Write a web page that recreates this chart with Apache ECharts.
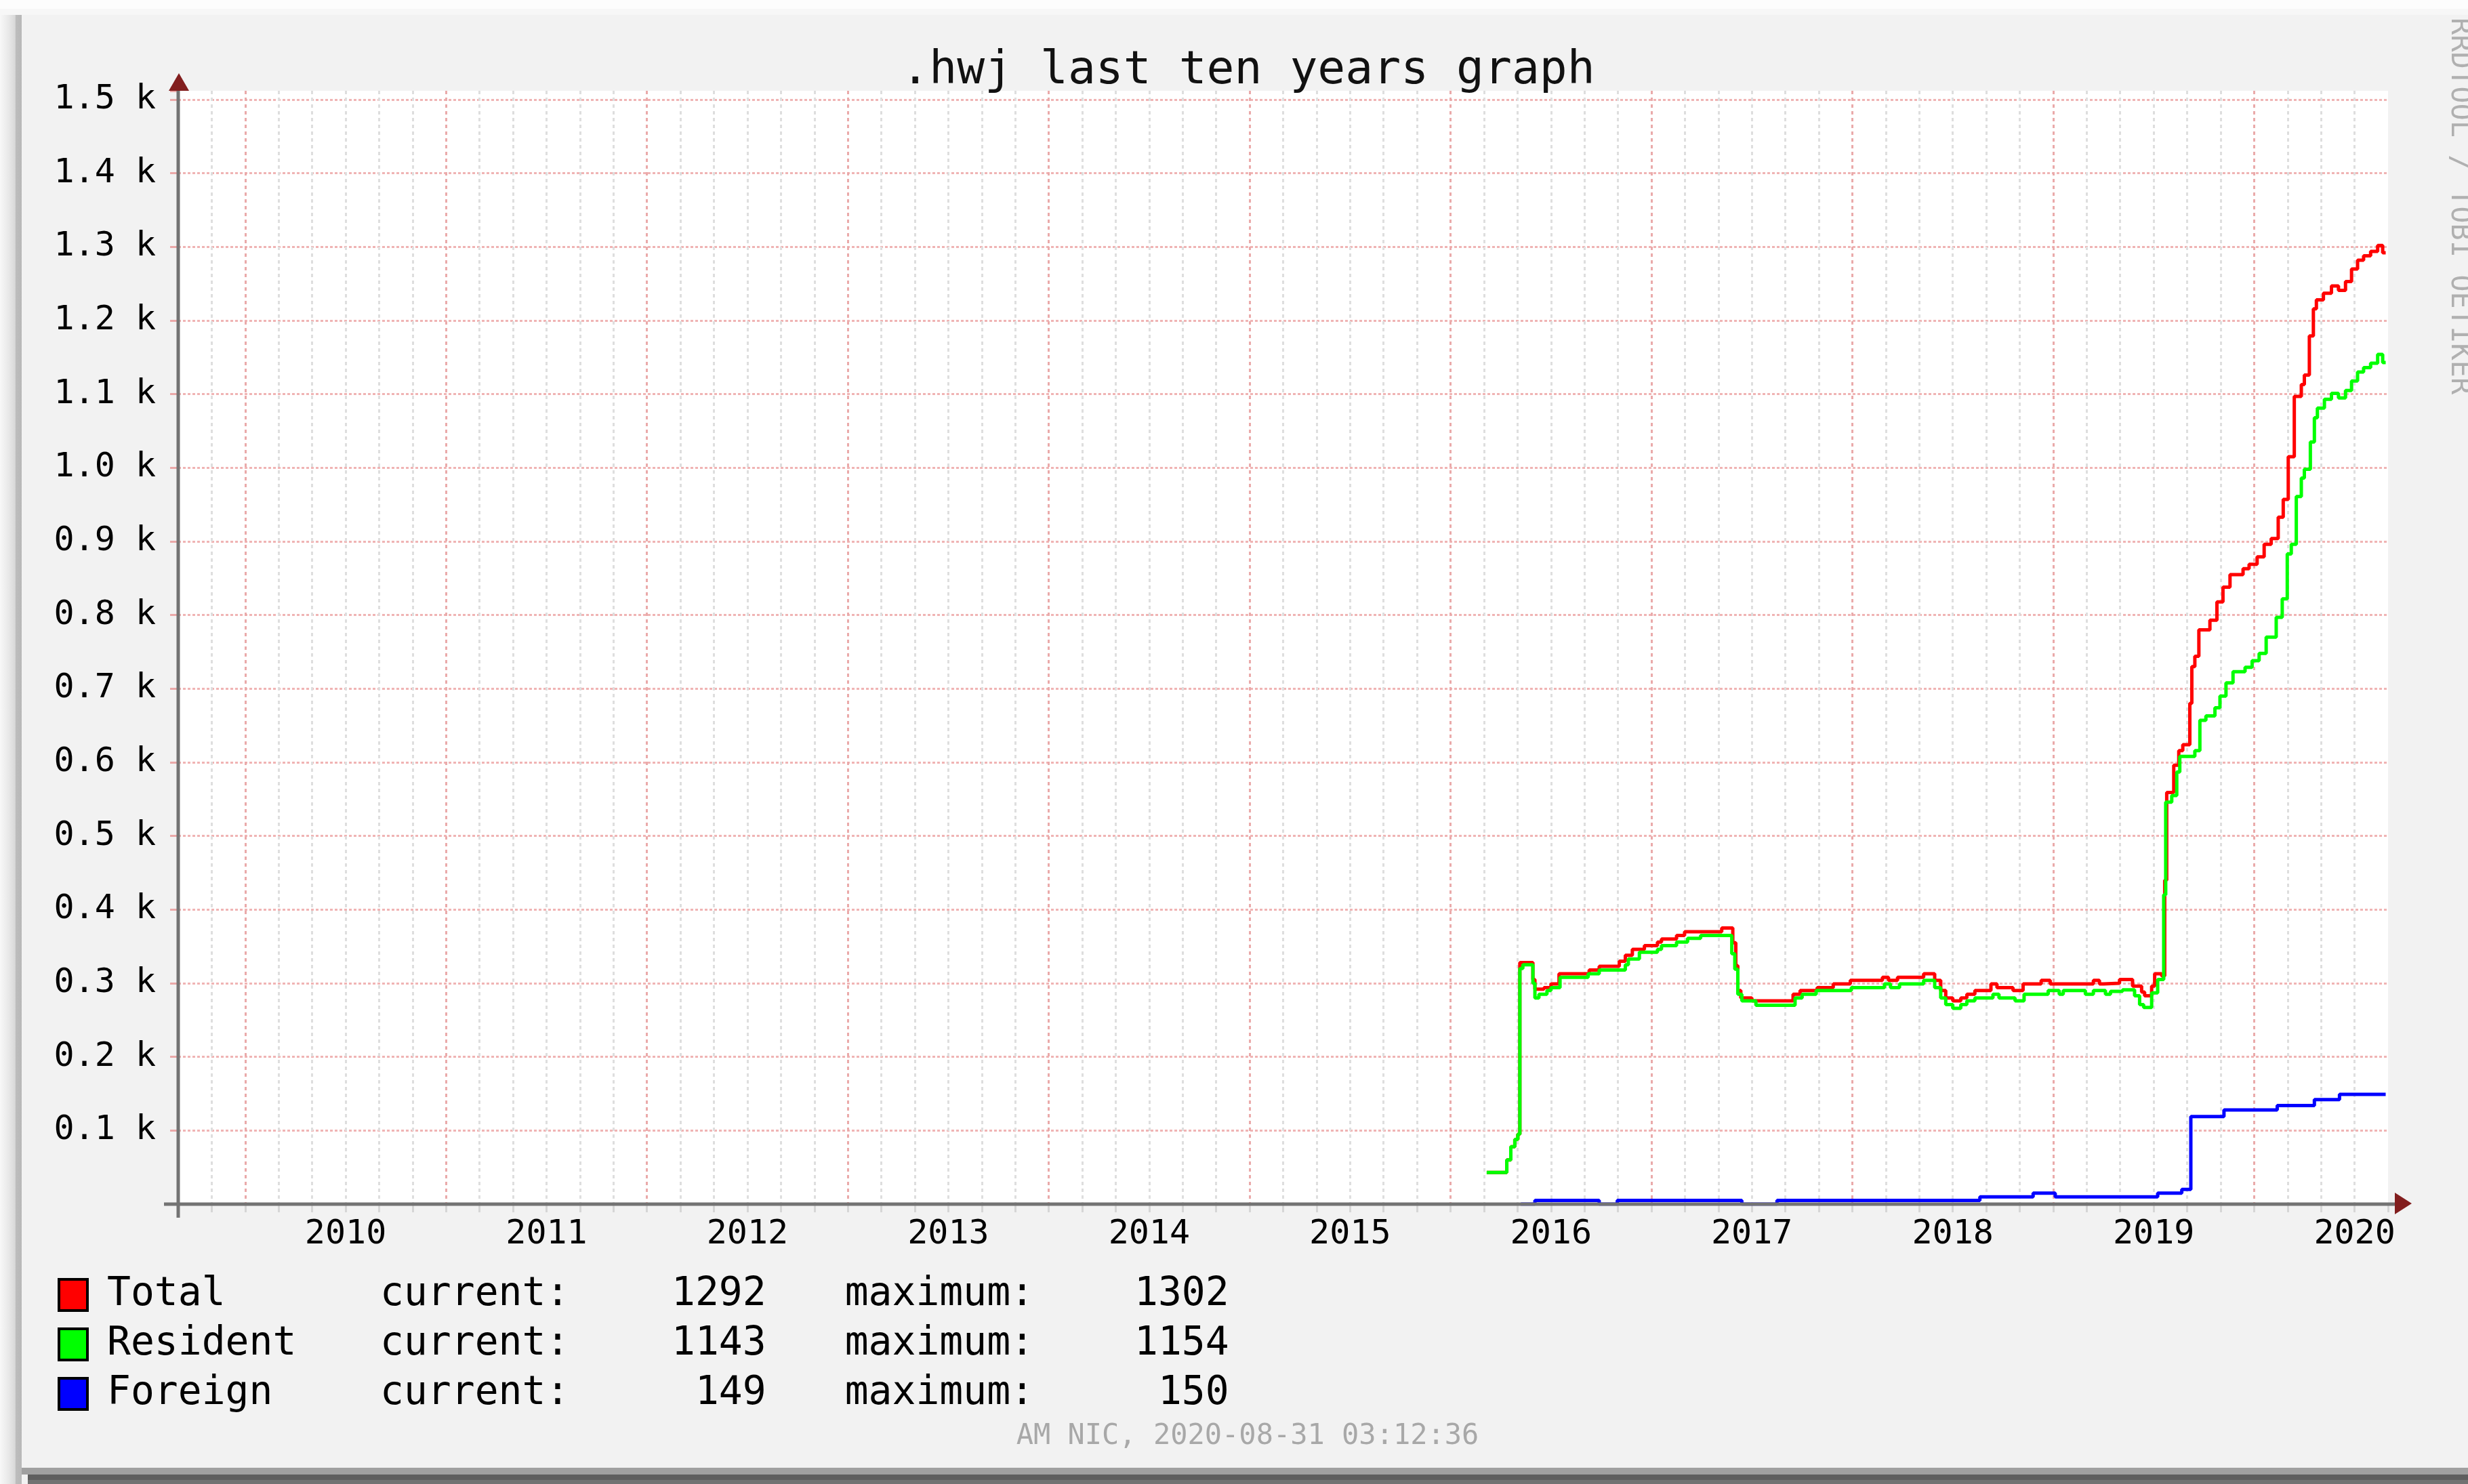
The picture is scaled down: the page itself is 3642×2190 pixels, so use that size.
<!DOCTYPE html>
<html>
<head>
<meta charset="utf-8">
<title>.hwj last ten years graph</title>
<script src="https://cdn.jsdelivr.net/npm/echarts@6.0.0/dist/echarts.min.js"></script>
<style>
  html, body { margin: 0; padding: 0; background: #f2f2f2; }
  #chart { width: 3642px; height: 2190px; }
</style>
</head>
<body>
<div id="chart"></div>
<script>
// [decimal year, domains] - each value holds until the next point (rrd steps)
const totalPoints = [
  [2016.18, 43], [2016.28, 60], [2016.30, 78], [2016.32, 88], [2016.335, 95], [2016.345, 328],
  [2016.41, 305], [2016.42, 292], [2016.465, 294], [2016.50, 299], [2016.54, 313], [2016.69, 318],
  [2016.74, 323], [2016.84, 330], [2016.87, 338], [2016.905, 346], [2016.965, 351], [2017.03, 356],
  [2017.05, 360], [2017.125, 365], [2017.165, 370], [2017.35, 375], [2017.405, 355], [2017.42, 324],
  [2017.43, 290], [2017.445, 280], [2017.50, 276], [2017.705, 285], [2017.74, 290], [2017.825, 294],
  [2017.905, 299], [2017.99, 304], [2018.15, 308], [2018.18, 304], [2018.225, 308], [2018.355, 313],
  [2018.41, 304], [2018.44, 290], [2018.465, 280], [2018.50, 276], [2018.54, 280], [2018.57, 285],
  [2018.61, 290], [2018.69, 299], [2018.72, 294], [2018.80, 290], [2018.85, 299], [2018.94, 304],
  [2018.985, 299], [2019.20, 304], [2019.23, 299], [2019.25, 300], [2019.33, 305], [2019.395, 296],
  [2019.44, 288], [2019.455, 283], [2019.49, 296], [2019.505, 313], [2019.54, 310], [2019.555, 440],
  [2019.565, 559], [2019.60, 596], [2019.625, 616], [2019.645, 624], [2019.68, 680], [2019.69, 730],
  [2019.705, 744], [2019.725, 780], [2019.78, 793], [2019.815, 818], [2019.845, 838], [2019.88, 855],
  [2019.945, 863], [2019.975, 869], [2020.015, 879], [2020.05, 896], [2020.085, 904], [2020.12, 933],
  [2020.145, 957], [2020.17, 1015], [2020.20, 1097], [2020.235, 1113], [2020.25, 1126], [2020.275, 1179],
  [2020.295, 1216], [2020.31, 1228], [2020.345, 1237], [2020.385, 1247], [2020.42, 1241], [2020.455, 1253],
  [2020.485, 1270], [2020.515, 1282], [2020.545, 1288], [2020.58, 1294], [2020.615, 1302], [2020.64, 1292],
  [2020.655, 1292]
];
const residentPoints = [
  [2016.18, 43], [2016.28, 60], [2016.30, 78], [2016.32, 88], [2016.335, 95], [2016.345, 320],
  [2016.36, 325], [2016.41, 300], [2016.42, 280], [2016.44, 285], [2016.48, 290], [2016.50, 294],
  [2016.545, 308], [2016.685, 313], [2016.74, 318], [2016.87, 325], [2016.885, 333], [2016.94, 342],
  [2017.03, 346], [2017.05, 351], [2017.125, 356], [2017.18, 361], [2017.245, 365], [2017.40, 340],
  [2017.415, 319], [2017.43, 285], [2017.45, 276], [2017.52, 270], [2017.715, 280], [2017.75, 285],
  [2017.82, 290], [2017.995, 294], [2018.16, 299], [2018.19, 294], [2018.235, 299], [2018.355, 304],
  [2018.41, 294], [2018.44, 280], [2018.465, 271], [2018.50, 266], [2018.54, 271], [2018.57, 276],
  [2018.61, 280], [2018.70, 285], [2018.73, 280], [2018.81, 276], [2018.855, 285], [2018.975, 290],
  [2019.03, 285], [2019.05, 290], [2019.16, 285], [2019.20, 290], [2019.26, 285], [2019.285, 289],
  [2019.345, 291], [2019.405, 283], [2019.43, 271], [2019.45, 267], [2019.49, 287], [2019.52, 305],
  [2019.55, 420], [2019.56, 546], [2019.59, 555], [2019.615, 587], [2019.63, 608], [2019.705, 616],
  [2019.73, 657], [2019.76, 663], [2019.805, 674], [2019.83, 690], [2019.86, 708], [2019.895, 723],
  [2019.955, 729], [2019.99, 738], [2020.025, 748], [2020.06, 770], [2020.11, 797], [2020.14, 822],
  [2020.165, 883], [2020.185, 896], [2020.21, 961], [2020.235, 986], [2020.25, 998], [2020.28, 1035],
  [2020.30, 1068], [2020.315, 1081], [2020.35, 1093], [2020.385, 1101], [2020.42, 1095], [2020.455, 1105],
  [2020.485, 1118], [2020.515, 1130], [2020.545, 1136], [2020.58, 1142], [2020.615, 1154], [2020.64, 1143],
  [2020.655, 1143]
];
const foreignPoints = [
  [2016.35, 0], [2016.42, 5], [2016.74, 0], [2016.83, 5], [2017.45, 0], [2017.625, 5],
  [2018.635, 10], [2018.90, 15], [2019.01, 10], [2019.52, 15], [2019.64, 20], [2019.685, 119],
  [2019.85, 128], [2020.115, 134], [2020.30, 142], [2020.425, 149], [2020.655, 149]
];

const legendNames = ['Total', 'Resident', 'Foreign'];
const legendCurrent = [1292, 1143, 149];
const legendMaximum = [1302, 1154, 150];
const seriesColors = ['#ff0000', '#00ff00', '#0000ff'];

// x axis runs in months so the 2-month grid starts on a whole tick (Sep 2009 .. Sep 2020)
const startMonth = 24116;
const endMonth = 24248;
const toMonths = p => [p[0] * 12, p[1]];

const mono = 'DejaVu Sans Mono';
// every 6th vertical line (1 January) is the red year line
const vGridColors = ['#dedede', '#dedede', '#eaaaaa', '#dedede', '#dedede', '#dedede'];

const chart = echarts.init(document.getElementById('chart'));

function lineSeries(name, points, color) {
  return {
    name: name,
    type: 'line',
    step: 'end',
    data: points.map(toMonths),
    showSymbol: false,
    symbol: 'none',
    lineStyle: { color: color, width: 5 },
    itemStyle: { color: color },
    emphasis: { disabled: true }
  };
}

// legend text pieces (rrdtool places them at fixed pixel stops), numbers padded to 4 monospace cells
const legendFont = { fontFamily: mono, fontSize: 58, color: '#000', lineHeight: 46 };
const legendRich = {
  n: Object.assign({ width: 403 }, legendFont),
  c: Object.assign({ width: 430 }, legendFont),
  v: Object.assign({}, legendFont),
  m: Object.assign({ padding: [0, 0, 0, 116] }, legendFont),
  w: Object.assign({ padding: [0, 0, 0, 148] }, legendFont)
};
const pad4 = v => String(v).padStart(4, ' ');

const option = {
  animation: false,
  backgroundColor: '#f2f2f2',
  grid: { left: 263, top: 134, width: 3261, height: 1643, show: true, backgroundColor: '#ffffff', borderWidth: 0 },
  xAxis: {
    type: 'value',
    min: startMonth,
    max: endMonth,
    interval: 2,
    axisLine: { show: false },
    axisTick: { show: true, length: 12, lineStyle: { color: '#d6d6d6', width: 3 } },
    axisLabel: {
      margin: 20,
      fontFamily: mono,
      fontSize: 50,
      color: '#000',
      formatter: v => (Math.round(v) % 12 === 6 ? String(Math.floor(v / 12)) : '')
    },
    splitLine: {
      show: true,
      showMinLine: true,
      showMaxLine: false,
      lineStyle: { color: vGridColors, width: 3, type: [5, 5] }
    }
  },
  yAxis: {
    type: 'value',
    min: 0,
    max: 1512,
    interval: 100,
    axisLine: { show: false },
    axisTick: { show: true, length: 12, lineStyle: { color: '#eaa8a8', width: 3 } },
    axisLabel: {
      margin: 33,
      fontFamily: mono,
      fontSize: 50,
      color: '#000',
      formatter: v => (v === 0 || v % 100 !== 0 ? '' : (v / 1000).toFixed(1) + ' k')
    },
    splitLine: { showMinLine: true, showMaxLine: false, lineStyle: { color: '#f0b4b4', width: 3, type: [4, 3] } }
  },
  legend: {
    orient: 'vertical',
    left: 80,
    top: 1877,
    itemWidth: 42,
    itemHeight: 46,
    itemGap: 15,
    icon: 'rect',
    selectedMode: false,
    itemStyle: { borderColor: '#000', borderWidth: 4 },
    textStyle: Object.assign({ padding: [0, 0, 0, 24], rich: legendRich }, legendFont),
    formatter: name => {
      const i = legendNames.indexOf(name);
      return '{n|' + name + '}{c|current:}{v|' + pad4(legendCurrent[i]) + '}{m|maximum:}{w|' + pad4(legendMaximum[i]) + '}';
    }
  },
  series: [
    lineSeries(legendNames[0], totalPoints, seriesColors[0]),
    lineSeries(legendNames[1], residentPoints, seriesColors[1]),
    lineSeries(legendNames[2], foreignPoints, seriesColors[2])
  ],
  graphic: {
    elements: [
      // frame shading
      { type: 'rect', silent: true, z: -5, shape: { x: 0, y: 0, width: 3642, height: 13 }, style: { fill: '#fdfdfd' } },
      { type: 'rect', silent: true, z: -5, shape: { x: 0, y: 13, width: 3642, height: 9 }, style: { fill: '#f7f7f7' } },
      {
        type: 'rect', silent: true, z: -4, shape: { x: 0, y: 22, width: 32, height: 2168 },
        style: {
          fill: {
            type: 'linear', x: 0, y: 0, x2: 1, y2: 0,
            colorStops: [
              { offset: 0, color: '#f8f8f8' }, { offset: 0.4, color: '#e8e8e8' },
              { offset: 0.7, color: '#d8d8d8' }, { offset: 0.72, color: '#bdbdbd' }, { offset: 1, color: '#b8b8b8' }
            ]
          }
        }
      },
      { type: 'rect', silent: true, z: -4, shape: { x: 32, y: 2166, width: 3610, height: 10 }, style: { fill: '#a0a0a0' } },
      { type: 'rect', silent: true, z: -4, shape: { x: 41, y: 2176, width: 3601, height: 8 }, style: { fill: '#5e5e5e' } },
      { type: 'rect', silent: true, z: -4, shape: { x: 41, y: 2184, width: 3601, height: 6 }, style: { fill: '#727272' } },
      // axes and arrows
      { type: 'line', silent: true, z: 10, shape: { x1: 242, y1: 1777, x2: 3536, y2: 1777 }, style: { stroke: '#737373', lineWidth: 5 } },
      { type: 'line', silent: true, z: 10, shape: { x1: 263, y1: 1797, x2: 263, y2: 133 }, style: { stroke: '#737373', lineWidth: 5 } },
      { type: 'polygon', silent: true, z: 11, shape: { points: [[3534, 1760], [3559, 1776], [3534, 1792]] }, style: { fill: '#821e1e' } },
      { type: 'polygon', silent: true, z: 11, shape: { points: [[249, 134], [264, 108], [279, 134]] }, style: { fill: '#821e1e' } },
      // texts
      {
        type: 'text', silent: true, x: 1842, y: 105,
        style: { text: '.hwj last ten years graph', font: '68px "DejaVu Sans Mono"', fill: '#111',
          align: 'center', textAlign: 'center', verticalAlign: 'middle', textVerticalAlign: 'middle' }
      },
      {
        type: 'text', silent: true, x: 1841, y: 2120,
        style: { text: 'AM NIC, 2020-08-31 03:12:36', font: '42px "DejaVu Sans Mono"', fill: '#a8a8a8',
          align: 'center', textAlign: 'center', verticalAlign: 'middle', textVerticalAlign: 'middle' }
      },
      {
        type: 'text', silent: true, x: 3629, y: 26, rotation: -Math.PI / 2,
        style: { text: 'RRDTOOL / TOBI OETIKER', font: '42px "DejaVu Sans Mono"', fill: '#b0b0b0',
          align: 'left', textAlign: 'left', verticalAlign: 'middle', textVerticalAlign: 'middle' }
      }
    ]
  }
};

chart.setOption(option);
</script>
</body>
</html>
